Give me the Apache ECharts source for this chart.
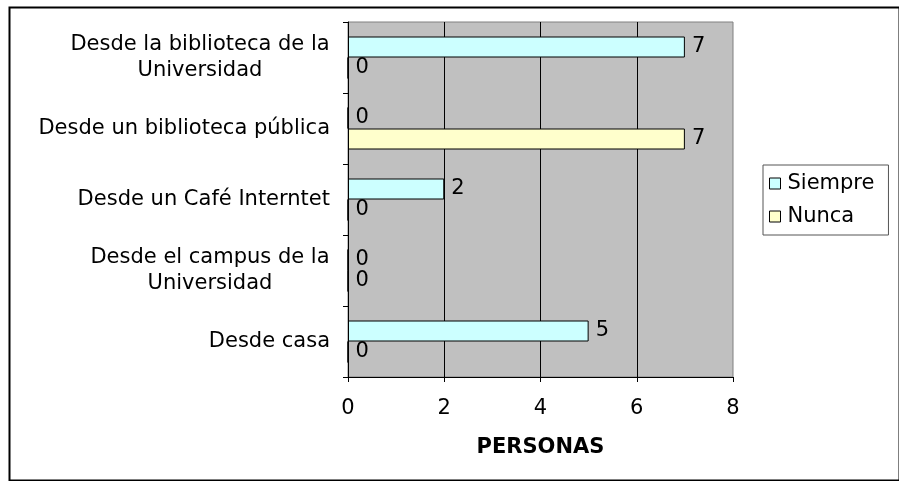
<!DOCTYPE html>
<html>
<head>
<meta charset="utf-8">
<script src="https://cdn.jsdelivr.net/npm/echarts@6/dist/echarts.min.js"></script>
<style>
  html, body { margin: 0; padding: 0; background: #fff; }
  #main { width: 899px; height: 481px; }
</style>
</head>
<body>
<div id="main"></div>
<script>
// categories listed top to bottom, as in the picture
var categories = [
    'Desde la biblioteca de la\nUniversidad',
    'Desde un biblioteca pública',
    'Desde un Café Interntet',
    'Desde el campus de la\nUniversidad',
    'Desde casa'
]
var siempre = [7, 0, 2, 0, 5]
var nunca = [0, 7, 0, 0, 0]
var xTicks = { min: 0, max: 8, step: 2 }
var axisTitle = 'PERSONAS'

var FONT = '"DejaVu Sans", sans-serif'
var FSIZE = 21

// width of a text line, so two-line labels can be centred like the original
var ctx = document.createElement('canvas').getContext('2d')
ctx.font = FSIZE + 'px ' + FONT
function lineWidth(s) {
    return Math.ceil(ctx.measureText(s).width)
}

function labelFormatter(value) {
    var lines = value.split('\n')
    if (lines.length === 1) return value
    var w = Math.max.apply(null, lines.map(lineWidth))
    return lines.map(function (l) { return '{c' + w + '|' + l + '}' }).join('\n')
}

var rich = {}
categories.forEach(function (c) {
    var lines = c.split('\n')
    if (lines.length > 1) {
        var w = Math.max.apply(null, lines.map(lineWidth))
        rich['c' + w] = { width: w, align: 'center', fontSize: FSIZE, fontFamily: FONT, color: '#000', lineHeight: 26 }
    }
})

var chart = echarts.init(document.getElementById('main'))

var labelStyle = {
    show: true,
    position: 'right',
    distance: 7,
    color: '#000',
    fontSize: FSIZE,
    fontFamily: FONT
}

var option = {
    animation: false,
    backgroundColor: '#fff',
    textStyle: { fontFamily: FONT },
    grid: {
        left: 348,
        right: 166,
        top: 22,
        bottom: 104,
        show: true,
        backgroundColor: '#C0C0C0',
        borderColor: '#808080',
        borderWidth: 1
    },
    legend: {
        orient: 'vertical',
        left: 763,
        top: 165,
        padding: [8, 14, 8, 6],
        itemGap: 12,
        itemWidth: 11,
        itemHeight: 11,
        icon: 'rect',
        borderColor: '#555',
        borderWidth: 1,
        itemStyle: { borderColor: '#000', borderWidth: 1 },
        textStyle: { color: '#000', fontSize: FSIZE, fontFamily: FONT, padding: [0, 0, 0, 2] },
        data: ['Siempre', 'Nunca']
    },
    xAxis: {
        type: 'value',
        min: xTicks.min,
        max: xTicks.max,
        interval: xTicks.step,
        name: axisTitle,
        nameLocation: 'middle',
        nameGap: 60,
        nameTextStyle: { color: '#000', fontSize: FSIZE, fontWeight: 'bold', fontFamily: FONT },
        axisLine: { show: true, lineStyle: { color: '#000', width: 1 } },
        axisTick: { show: true, length: 5, lineStyle: { color: '#000' } },
        axisLabel: { color: '#000', fontSize: FSIZE, fontFamily: FONT, margin: 21 },
        splitLine: { show: true, showMaxLine: false, lineStyle: { color: '#000', width: 1 } }
    },
    yAxis: {
        type: 'category',
        inverse: true,
        data: categories,
        axisLine: { show: true, lineStyle: { color: '#000', width: 1 } },
        axisTick: { show: true, length: 5, lineStyle: { color: '#000' } },
        axisLabel: {
            color: '#000',
            fontSize: FSIZE,
            fontFamily: FONT,
            margin: 18,
            lineHeight: 26,
            formatter: labelFormatter,
            rich: rich
        }
    },
    series: [
        {
            name: 'Siempre',
            type: 'bar',
            data: siempre,
            barWidth: 21,
            barGap: '0%',
            itemStyle: { color: '#CCFFFF', borderColor: '#000', borderWidth: 1 },
            label: labelStyle
        },
        {
            name: 'Nunca',
            type: 'bar',
            data: nunca,
            barWidth: 21,
            barGap: '0%',
            itemStyle: { color: '#FFFFCC', borderColor: '#000', borderWidth: 1 },
            label: labelStyle
        }
    ],
    graphic: [
        {
            type: 'rect',
            left: 7,
            top: 5,
            shape: { width: 890, height: 473 },
            style: { fill: 'none', stroke: '#000', lineWidth: 2 },
            silent: true
        }
    ]
}

chart.setOption(option)
</script>
</body>
</html>
